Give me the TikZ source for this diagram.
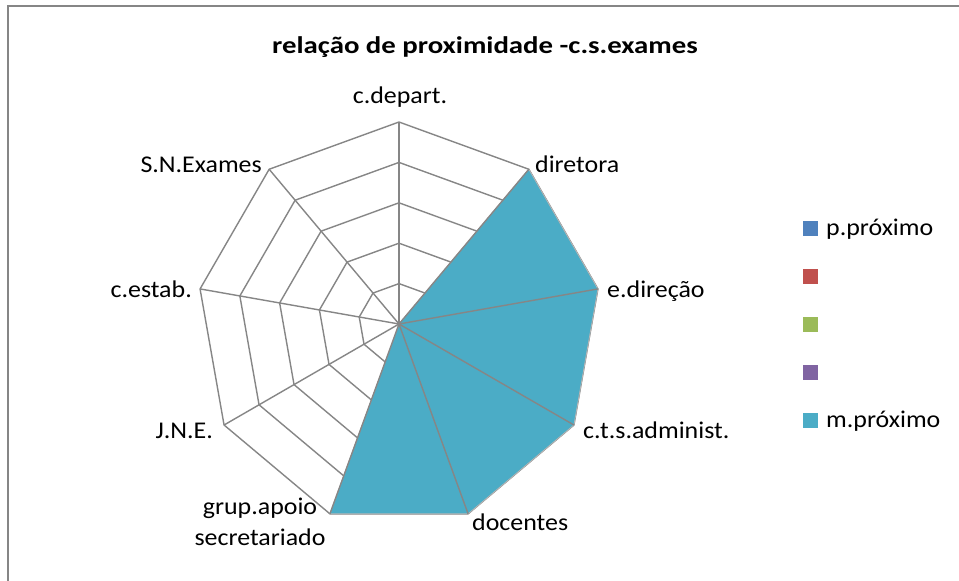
\documentclass[tikz,border=0pt]{standalone}
\usepackage{fontspec}
\setmainfont{Carlito}[FakeStretch=1.08]
\newfontfamily\titlefont{Carlito}[FakeStretch=1.2]
\usetikzlibrary{calc}
\definecolor{gridgray}{RGB}{134,134,134}
\definecolor{serA}{RGB}{79,129,189}
\definecolor{serB}{RGB}{192,80,77}
\definecolor{serC}{RGB}{155,187,89}
\definecolor{serD}{RGB}{128,100,162}
\definecolor{serE}{RGB}{75,172,198}
\begin{document}
\begin{tikzpicture}[x=1pt,y=1pt,
  gridline/.style={draw=gridgray,line width=1.4pt},
  lbl/.style={inner sep=0pt,font=\fontsize{24}{31}\selectfont},
  legsq/.style={minimum size=15pt,inner sep=0pt,draw=none}]
\useasboundingbox (0,0) rectangle (959,-581);
\fill[white] (0,0) rectangle (959,-581);
% outer frame (cropped)
\coordinate (FB) at (7.5,-581);
\coordinate (FC) at (7.5,-5.5);
\coordinate (FR) at (959,-5.5);
\draw[gridgray,line width=2pt] (FB) -- (FC) -- (FR);
% chart geometry
\coordinate (C) at (399,-324);
\foreach \n/\a in {1/90,2/50,3/10,4/-30,5/-70,6/-110,7/-150,8/170,9/130}{
  \foreach \k in {1,...,5}{
    \coordinate (R\k-\n) at ($(C)+(\a:{\k*40.4})$);
  }
}
% rings
\foreach \k in {1,...,5}{
  \draw[gridline] (R\k-1) -- (R\k-2) -- (R\k-3) -- (R\k-4) -- (R\k-5) -- (R\k-6) -- (R\k-7) -- (R\k-8) -- (R\k-9) -- cycle;
}
% series m.proximo
\filldraw[fill=serE,draw=gridgray!60,line width=0.8pt] (C) -- (R5-2) -- (R5-3) -- (R5-4) -- (R5-5) -- (R5-6) -- cycle;
% spokes
\foreach \n in {1,...,9}{
  \draw[gridline] (C) -- (R5-\n);
}
% title
\node[inner sep=0pt,font=\titlefont\bfseries\fontsize{24}{28}\selectfont,anchor=base west] (title) at (272,-53) {relação de proximidade -c.s.exames};
% axis labels
\node[lbl,anchor=base] (lA) at (400,-103) {c.depart.};
\node[lbl,anchor=base west] (lB) at (535,-172) {diretora};
\node[lbl,anchor=base west] (lC) at (607,-297) {e.direção};
\node[lbl,anchor=base west] (lD) at (583,-438) {c.t.s.administ.};
\node[lbl,anchor=base west] (lE) at (472,-530) {docentes};
\node[lbl,align=center,anchor=center] (lF) at (260,-522) {grup.apoio\\secretariado};
\node[lbl,anchor=base east] (lG) at (213,-438) {J.N.E.};
\node[lbl,anchor=base east] (lH) at (192,-297) {c.estab.};
\node[lbl,anchor=base east] (lI) at (262,-172) {S.N.Exames};
% legend
\node[legsq,fill=serA] (sq0) at (810.5,-228.5) {};
\node[legsq,fill=serB] (sq1) at (810.5,-276.5) {};
\node[legsq,fill=serC] (sq2) at (810.5,-324.5) {};
\node[legsq,fill=serD] (sq3) at (810.5,-372.5) {};
\node[legsq,fill=serE] (sq4) at (810.5,-420.5) {};
\node[lbl,anchor=base west] (lt0) at (826,-235) {p.próximo};
\node[lbl,anchor=base west] (lt4) at (826,-427) {m.próximo};
\end{tikzpicture}
\end{document}
